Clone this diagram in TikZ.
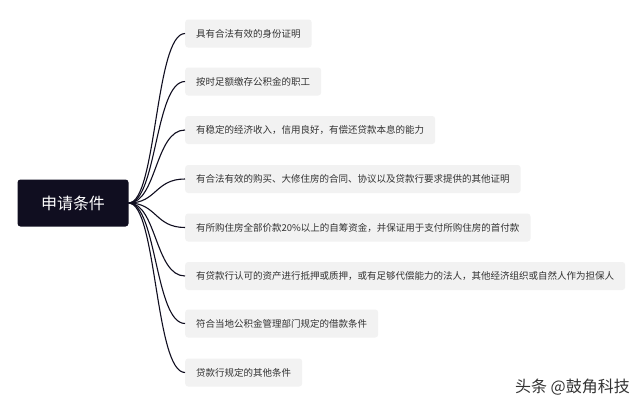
\documentclass[tikz,border=0pt]{standalone}
\usepackage{fontspec}
\newfontfamily\cjk{Noto Sans CJK SC}
\definecolor{rootc}{HTML}{100E20}
\definecolor{boxc}{HTML}{F2F2F2}
\definecolor{txtc}{HTML}{333333}
\tikzset{
  rootbox/.style={fill=rootc, rounded corners=3pt, minimum width=111pt, minimum height=47pt, text=white, font=\cjk\fontsize{16}{18}\selectfont, inner sep=0pt},
  leafbox/.style={fill=boxc, rounded corners=3pt, anchor=west, minimum height=28pt, inner xsep=11pt, inner ysep=0pt, text=txtc, font=\cjk\fontsize{9.5}{11}\selectfont},
  link/.style={draw=rootc, line width=1.1pt}
}
\begin{document}
\begin{tikzpicture}[x=1pt,y=-1pt]
\useasboundingbox[fill=white] (0,0) rectangle (640,407);
\node[rootbox] (root) at (73,203) {申请条件};
\node[leafbox] (c1) at (185,33.5) {具有合法有效的身份证明};
\node[leafbox] (c2) at (185,81.5) {按时足额缴存公积金的职工};
\node[leafbox] (c3) at (185,130) {有稳定的经济收入，信用良好，有偿还贷款本息的能力};
\node[leafbox] (c4) at (185,179) {有合法有效的购买、大修住房的合同、协议以及贷款行要求提供的其他证明};
\node[leafbox] (c5) at (185,227.5) {有所购住房全部价款20\%以上的自筹资金，并保证用于支付所购住房的首付款};
\node[leafbox] (c6) at (185,276) {有贷款行认可的资产进行抵押或质押，或有足够代偿能力的法人，其他经济组织或自然人作为担保人};
\node[leafbox] (c7) at (185,323.5) {符合当地公积金管理部门规定的借款条件};
\node[leafbox] (c8) at (185,372.5) {贷款行规定的其他条件};
\foreach \i in {1,...,8}{
  \draw[link] (root.east) .. controls +(28,0) and +(-30,0) .. (c\i.west);
}
\node[anchor=east, text=txtc, font=\cjk\fontsize{16}{18}\selectfont, inner sep=0pt] (wm) at (630,387) {头条 @鼓角科技};
\end{tikzpicture}
\end{document}
